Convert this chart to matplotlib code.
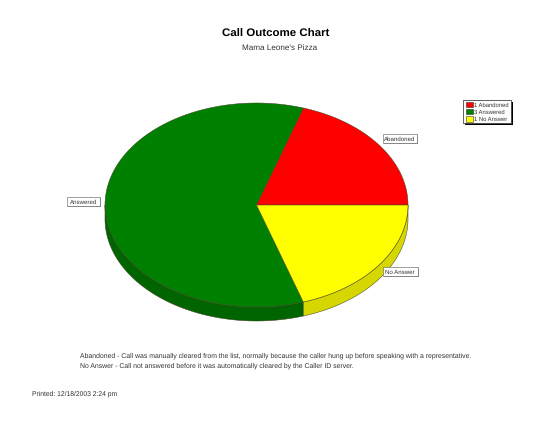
import numpy as np
import matplotlib
matplotlib.use("Agg")
import matplotlib.pyplot as plt
from matplotlib.patches import Polygon, Rectangle

plt.rcParams['font.family'] = ['Liberation Sans', 'DejaVu Sans']
plt.rcParams['text.hinting'] = 'none'

categories = ["Abandoned", "Answered", "No Answer"]
values = [1, 3, 1]
top_colors = ["#ff0000", "#008000", "#ffff00"]
wall_colors = ["#c80000", "#006400", "#d6d600"]
title = "Call Outcome Chart"
subtitle = "Mama Leone's Pizza"
notes = ["Abandoned - Call was manually cleared from the list, normally because the caller hung up before speaking with a representative.",
         "No Answer - Call not answered before it was automatically cleared by the Caller ID server."]
printed = "Printed: 12/18/2003 2:24 pm"

W, H = 555, 429
fig = plt.figure(figsize=(W/100, H/100), dpi=100, facecolor="white")
ax = fig.add_axes([0, 0, 1, 1])
ax.set_xlim(0, W); ax.set_ylim(H, 0); ax.axis("off")

cx, cy, rx, ry, depth = 256.5, 205, 151.5, 102, 14
edge = "#404020"

def arc(a0, a1, dy=0):
    t = np.radians(np.linspace(a0, a1, 120))
    return np.column_stack([cx + rx*np.cos(t), cy - ry*np.sin(t) + dy])

vals = np.array(values, float)
bounds = np.concatenate([[0], np.cumsum(vals)/vals.sum()*360])

# side walls (only the front half of the disc shows)
for i in range(len(vals)):
    a0, a1 = max(bounds[i], 180), max(bounds[i+1], 180)
    if a1 > a0:
        pts = np.vstack([arc(a0, a1), arc(a0, a1, depth)[::-1]])
        ax.add_patch(Polygon(pts, closed=True, fc=wall_colors[i], ec=edge, lw=0.35, zorder=2))

# top faces
for i in range(len(vals)):
    pts = np.vstack([[cx, cy], arc(bounds[i], bounds[i+1])])
    ax.add_patch(Polygon(pts, closed=True, fc=top_colors[i], ec=edge, lw=0.35, zorder=3))

# callout labels: left, top, width of each box
label_box = [(383, 134, 34), (67, 197, 33), (382.5, 267, 35.5)]
for name, (x, y, w) in zip(categories, label_box):
    ax.add_patch(Rectangle((x+1, y+1), w, 8.5, fc="#666666", ec="none", zorder=5))
    ax.add_patch(Rectangle((x, y), w, 8.5, fc="white", ec="#777777", lw=0.5, zorder=6))
    ax.text(x+w/2, y+4.5, name, fontsize=4.4, color="#333333", ha="center", va="center_baseline", zorder=7)

# legend
ax.add_patch(Rectangle((465, 102), 48, 23, fc="black", ec="none", zorder=4))
ax.add_patch(Rectangle((463, 100), 48, 23, fc="white", ec="#444444", lw=0.6, zorder=5))
for i, (n, name) in enumerate(zip(values, categories)):
    y = 104.5 + i*7.2
    ax.add_patch(Rectangle((466, y-2.6), 7, 5.2, fc=top_colors[i], ec="#333333", lw=0.4, zorder=6))
    ax.text(474.5, y+0.3, f"{n} {name}", fontsize=4.2, color="#333333", va="center_baseline", zorder=6)

# headings and notes
ax.text(275.5, 33, title, fontsize=8.25, fontweight="bold", color="black", ha="center", va="center_baseline")
ax.text(280, 47, subtitle, fontsize=5.9, color="#333333", ha="center", va="center_baseline")
ax.text(80, 355, notes[0], fontsize=4.91, color="#333333", va="center_baseline")
ax.text(80, 365, notes[1], fontsize=4.91, color="#333333", va="center_baseline")
ax.text(32, 393, printed, fontsize=4.85, color="#333333", va="center_baseline")

fig.savefig("out.png", dpi=100)
